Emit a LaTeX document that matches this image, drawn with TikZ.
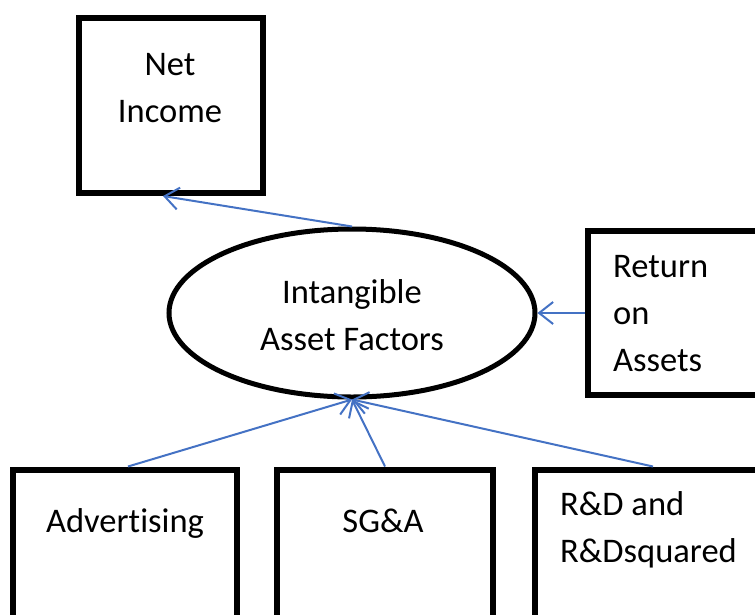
\documentclass[tikz,border=0pt]{standalone}
\usepackage{fontspec}
\setmainfont[Ligatures=NoCommon]{Carlito}
\usetikzlibrary{shapes.geometric,arrows.meta}
\definecolor{linkblue}{RGB}{68,114,196}
\tikzset{
  box/.style={draw=black, line width=6pt, rectangle, inner sep=0pt},
  label/.style={font=\fontsize{34.5}{47}\selectfont, inner sep=0pt},
  link/.style={draw=linkblue, line width=2pt,
    -{Straight Barb[length=14pt,width=22pt,line width=2pt]}}
}
\begin{document}
\begin{tikzpicture}[x=1pt,y=-1pt]
  \useasboundingbox (0,0) rectangle (755,614);
  \clip (0,0) rectangle (755,614);
  % boxes
  \node[box, minimum width=184pt, minimum height=175pt] (ni) at (171,105.5) {};
  \node[box, minimum width=200pt, minimum height=164pt] (roa) at (688,313) {};
  \node[box, minimum width=224pt, minimum height=175pt] (adv) at (125,557) {};
  \node[box, minimum width=216pt, minimum height=175pt] (sga) at (385,557) {};
  \node[box, minimum width=236pt, minimum height=175pt] (rd) at (653,557) {};
  % central construct
  \node[draw=black, line width=5pt, ellipse, inner sep=0pt,
        minimum width=366pt, minimum height=168pt] (iaf) at (352,313) {};
  % texts
  \node[label, align=center] (tni) at (170,88) {Net\\Income};
  \node[label, align=center] (tiaf) at (352,315) {Intangible\\Asset Factors};
  \node[label, align=left, anchor=west] (troa) at (613,314) {Return\\on\\Assets};
  \node[label] (tadv) at (125,523) {Advertising};
  \node[label] (tsga) at (383,521) {SG\&A};
  \node[label, align=left, anchor=west] (trd) at (560,530) {R\&D and\\R\&Dsquared};
  % links
  \draw[link] (iaf.north) -- ([xshift=-8pt]ni.south);
  \draw[link] (roa.west) -- (iaf.east);
  \draw[link] ([xshift=3pt]adv.north) -- (iaf.south);
  \draw[link] (sga.north) -- (iaf.south);
  \draw[link] (rd.north) -- (iaf.south);
\end{tikzpicture}
\end{document}
